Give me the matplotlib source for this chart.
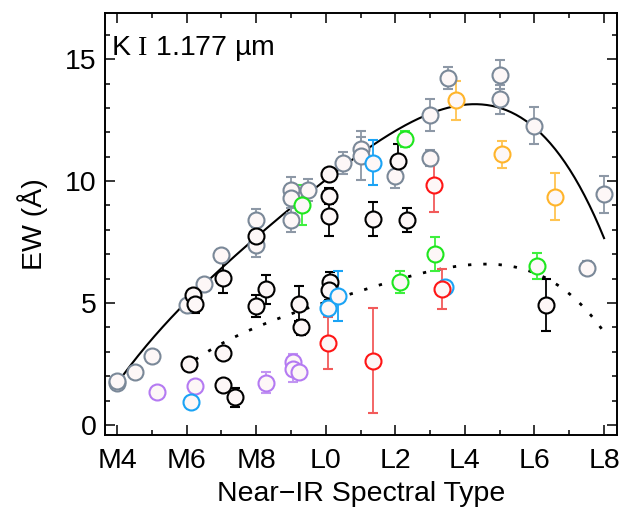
import numpy as np
import matplotlib
matplotlib.use('Agg')
import matplotlib.pyplot as plt
from matplotlib.ticker import MultipleLocator

plt.rcParams['font.family'] = ['Liberation Sans', 'DejaVu Sans']
plt.rcParams['mathtext.fontset'] = 'custom'
plt.rcParams['mathtext.rm'] = 'Liberation Serif'

# spectral type: M0 = 0, L0 = 10
gray_x = [4.0, 4.0, 4.5, 5.0, 6.0, 6.5, 7.0, 8.0, 8.0, 9.0, 9.0, 9.0, 9.5, 10.5,
          11.0, 11.0, 12.0, 13.0, 13.0, 13.5, 15.0, 15.0, 16.0, 17.5, 18.0]
gray_y = [1.70, 1.82, 2.16, 2.84, 4.92, 5.78, 6.97, 8.40, 7.38, 9.65, 9.29, 8.40, 9.63, 10.75,
          11.32, 11.04, 10.20, 12.70, 10.95, 14.23, 14.37, 13.35, 12.27, 6.45, 9.45]
gray_e = [0.08, 0.08, 0.1, 0.1, 0.15, 0.2, 0.25, 0.45, 0.5, 0.5, 0.6, 0.5, 0.45, 0.45,
          0.5, 1.0, 0.5, 0.65, 0.33, 0.45, 0.59, 0.6, 0.76, 0.28, 0.77]

black_x = [6.08, 6.19, 6.24, 7.04, 7.05, 7.04, 7.39, 8.0, 8.0, 8.28, 9.23, 9.29,
           10.1, 10.1, 10.1, 10.12, 10.1, 11.35, 12.08, 12.34, 16.32]
black_y = [2.50, 5.33, 4.98, 6.04, 2.96, 1.64, 1.13, 7.76, 4.88, 5.56, 4.98, 4.00,
           10.30, 9.39, 8.57, 5.85, 5.53, 8.44, 10.83, 8.40, 4.92]
black_e = [0.0, 0.2, 0.38, 0.64, 0.0, 0.0, 0.4, 0.35, 0.45, 0.58, 0.72, 0.3,
           0.0, 0.31, 0.82, 0.44, 0.4, 0.71, 0.68, 0.48, 1.06]

blue_x = [6.12, 10.07, 10.36, 11.37, 13.43]
blue_y = [0.94, 4.78, 5.29, 10.75, 5.64]
blue_e = [0.0, 0.3, 1.03, 0.93, 0.2]

purple_x = [5.14, 6.24, 8.28, 9.07, 9.07, 9.23]
purple_y = [1.34, 1.61, 1.74, 2.60, 2.30, 2.17]
purple_e = [0.0, 0.0, 0.43, 0.3, 0.55, 0.25]

red_x = [10.05, 11.35, 13.12, 13.35]
red_y = [3.37, 2.64, 9.84, 5.56]
red_e = [1.07, 2.17, 1.09, 0.82]

green_x = [9.32, 12.28, 12.13, 13.13, 16.06]
green_y = [9.02, 11.71, 5.87, 7.00, 6.52]
green_e = [0.82, 0.33, 0.46, 0.7, 0.55]

orange_x = [13.73, 15.08, 16.6]
orange_y = [13.32, 11.10, 9.36]
orange_e = [0.8, 0.56, 0.96]

# fit curves
fit_x = [4.0, 5.33, 8.0, 10.1, 13.0, 14.46, 16.0, 16.82, 17.3, 17.69, 18.0]
fit_y = [1.78, 3.9, 7.75, 10.3, 12.6, 13.07, 12.3, 11.0, 9.77, 8.67, 7.58]
dot_x = [6.29, 6.86, 8.68, 9.64, 11.37, 12.7, 14.38, 15.77, 17.1, 18.02]
dot_y = [2.77, 3.14, 4.44, 4.85, 5.67, 6.2, 6.56, 6.38, 5.26, 3.76]

tick_pos = [4, 6, 8, 10, 12, 14, 16, 18]
tick_lab = ['M4', 'M6', 'M8', 'L0', 'L2', 'L4', 'L6', 'L8']

fig = plt.figure(figsize=(6.21, 5.12), dpi=100)
ax = fig.add_axes([0.169, 0.150, 0.825, 0.825])

xx = np.linspace(4.0, 18.0, 300)
ax.plot(xx, np.polyval(np.polyfit(fit_x, fit_y, 4), xx), color='black', lw=1.5, zorder=2)
xd = np.linspace(6.25, 18.0, 300)
ax.plot(xd, np.polyval(np.polyfit(dot_x, dot_y, 4), xd), color='black', lw=2.0,
        ls=(0, (1.2, 4.3)), zorder=2)

groups = [
    (gray_x, gray_y, gray_e, '#7a8898', '#8d98a6'),
    (black_x, black_y, black_e, 'black', 'black'),
    (purple_x, purple_y, purple_e, '#b47af2', '#c295f2'),
    (blue_x, blue_y, blue_e, '#1aa3f5', '#1aa3f5'),
    (green_x, green_y, green_e, '#1ee61e', '#3ef03e'),
    (red_x, red_y, red_e, '#ff1515', '#f25a5a'),
    (orange_x, orange_y, orange_e, '#ffb42a', '#ffc452'),
]
for gx, gy, ge, mc, ec in groups:
    ax.errorbar(gx, gy, yerr=ge, fmt='o', ms=11.5, mfc='#fdf7f7', mec=mc, mew=1.5,
                ecolor=ec, elinewidth=1.3, capsize=3.5, capthick=1.3, zorder=3)

ax.set_xlim(3.65, 18.38)
ax.set_ylim(-0.42, 16.9)
ax.set_xticks(tick_pos)
ax.set_xticklabels(tick_lab)
ax.xaxis.set_minor_locator(MultipleLocator(1))
ax.set_yticks([0, 5, 10, 15])
ax.yaxis.set_minor_locator(MultipleLocator(1))
ax.tick_params(which='both', direction='in', top=True, right=True, width=1.1,
               labelsize=20.5)
ax.tick_params(which='major', length=7, pad=9)
ax.tick_params(which='minor', length=3.6)
ax.tick_params(axis='y', which='major', pad=6)
for s in ax.spines.values():
    s.set_linewidth(1.4)

ax.set_xlabel('Near\u2212IR Spectral Type', fontsize=20.5, labelpad=5)
ax.set_ylabel('EW (Å)', fontsize=20.5, labelpad=12)
ax.text(0.012, 0.95, r'K $\mathrm{I}$ 1.177 µm', transform=ax.transAxes,
        fontsize=20.5, ha='left', va='top')

fig.savefig('out.png', dpi=100)
